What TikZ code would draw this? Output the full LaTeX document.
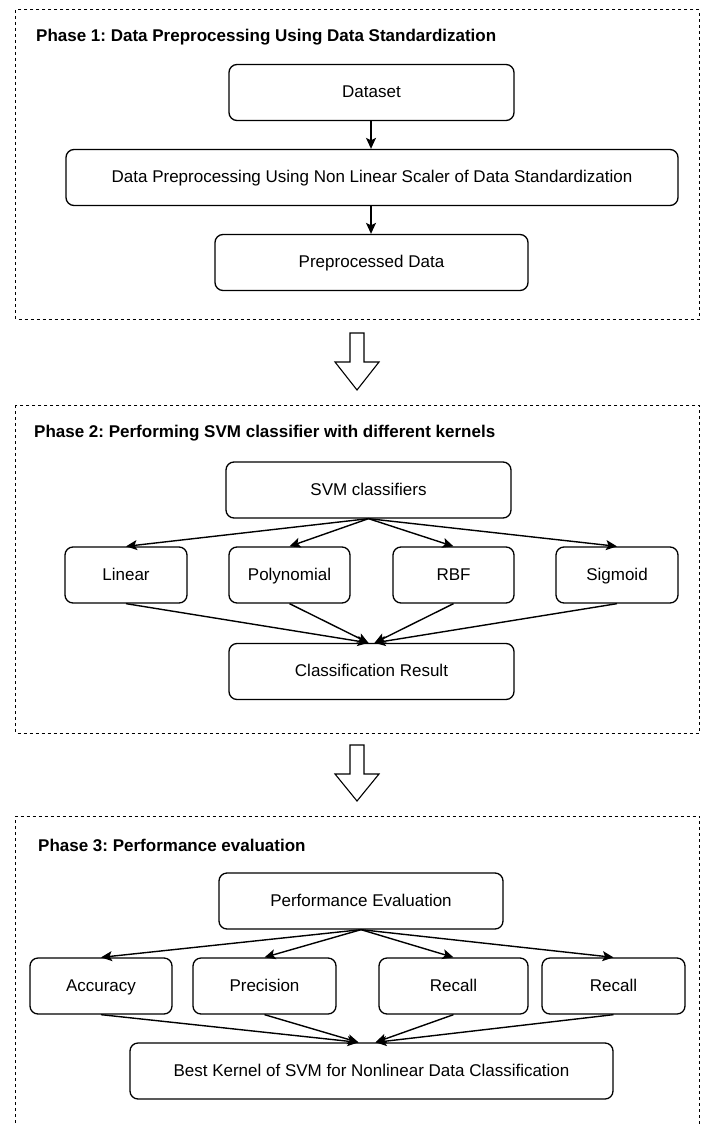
\documentclass[tikz,border=0pt]{standalone}
\usepackage{fontspec}
\setmainfont{Liberation Sans}
\usetikzlibrary{arrows.meta,calc}
\frenchspacing
\newcommand\bxfont{\fontsize{17}{20}\selectfont}
\newcommand\ttlfont{\fontsize{17}{20}\selectfont\bfseries}
\tikzset{
  box/.style={draw, line width=1.3pt, rounded corners=8pt, inner sep=0pt, font=\bxfont, align=center, minimum height=56pt, text height=12pt, text depth=2pt},
  frame/.style={draw, line width=1pt, dash pattern=on 3pt off 3pt},
  ttl/.style={anchor=west, inner sep=0pt, font=\ttlfont},
  conn/.style={line width=1.4pt, -{Stealth[length=11pt,width=10pt,inset=2.5pt]}},
  bigarrow/.style={draw, line width=1.1pt, fill=white, line join=miter}
}
\begin{document}
\begin{tikzpicture}[x=1pt,y=-1pt]
\useasboundingbox (0,0) rectangle (703,1126);
% frames
\draw[frame] (15.7,10) rectangle (699.5,319);
\draw[frame] (15.7,405) rectangle (699.5,733);
\draw[frame] (15.7,1135) -- (15.7,816) -- (699.5,816) -- (699.5,1135);
% titles
\node[ttl] (t1) at (36,37) {Phase 1: Data Preprocessing Using Data Standardization};
\node[ttl] (t2) at (34,433) {Phase 2: Performing SVM classifier with different kernels};
\node[ttl] (t3) at (38,845) {Phase 3: Performance evaluation};
% hollow arrows
\draw[bigarrow] (350,333) -- (364,333) -- (364,362) -- (379,362) -- (357,390) -- (335,362) -- (350,362) -- cycle;
\draw[bigarrow] (350,745) -- (364,745) -- (364,774) -- (379,774) -- (357,801) -- (335,774) -- (350,774) -- cycle;
% Phase 1
\node[box, minimum width=285pt] (ds) at (371.5,92.5) {Dataset};
\node[box, minimum width=612pt] (dp) at (372,177.5) {Data Preprocessing Using Non Linear Scaler of Data Standardization};
\node[box, minimum width=313pt] (pp) at (371.5,262.5) {Preprocessed Data};
\draw[conn] (ds.south -| 371,0) -- (dp.north -| 371,0);
\draw[conn] (dp.south -| 371,0) -- (pp.north -| 371,0);
% Phase 2
\node[box, minimum width=285pt] (svm) at (368.5,490) {SVM classifiers};
\node[box, minimum width=122pt] (lin) at (126,575) {Linear};
\node[box, minimum width=121pt] (poly) at (289.5,575) {Polynomial};
\node[box, minimum width=121pt] (rbf) at (453.5,575) {RBF};
\node[box, minimum width=122pt] (sig) at (617,575) {Sigmoid};
\node[box, minimum width=285pt] (cr) at (371.5,671.5) {Classification Result};
\foreach \n in {lin,poly,rbf,sig} \draw[conn] (svm.south) -- (\n.north);
\draw[conn] (lin.south) -- ($(cr.north)+(-3,0)$);
\draw[conn] (poly.south) -- ($(cr.north)+(-3,0)$);
\draw[conn] (rbf.south) -- ($(cr.north)+(3,0)$);
\draw[conn] (sig.south) -- ($(cr.north)+(3,0)$);
% Phase 3
\node[box, minimum width=284pt] (pe) at (361,901) {Performance Evaluation};
\node[box, minimum width=142pt] (acc) at (101,986) {Accuracy};
\node[box, minimum width=143pt] (prec) at (264.5,986) {Precision};
\node[box, minimum width=149pt] (rec1) at (453.5,986) {Recall};
\node[box, minimum width=143pt] (rec2) at (613.5,986) {Recall};
\node[box, minimum width=483pt] (bk) at (371.5,1071) {Best Kernel of SVM for Nonlinear Data Classification};
\foreach \n in {acc,prec,rec1,rec2} \draw[conn] (pe.south) -- (\n.north);
\draw[conn] (acc.south) -- ($(bk.north)+(-13,0)$);
\draw[conn] (prec.south) -- ($(bk.north)+(-13,0)$);
\draw[conn] (rec1.south) -- ($(bk.north)+(4,0)$);
\draw[conn] (rec2.south) -- ($(bk.north)+(4,0)$);
\end{tikzpicture}
\end{document}
